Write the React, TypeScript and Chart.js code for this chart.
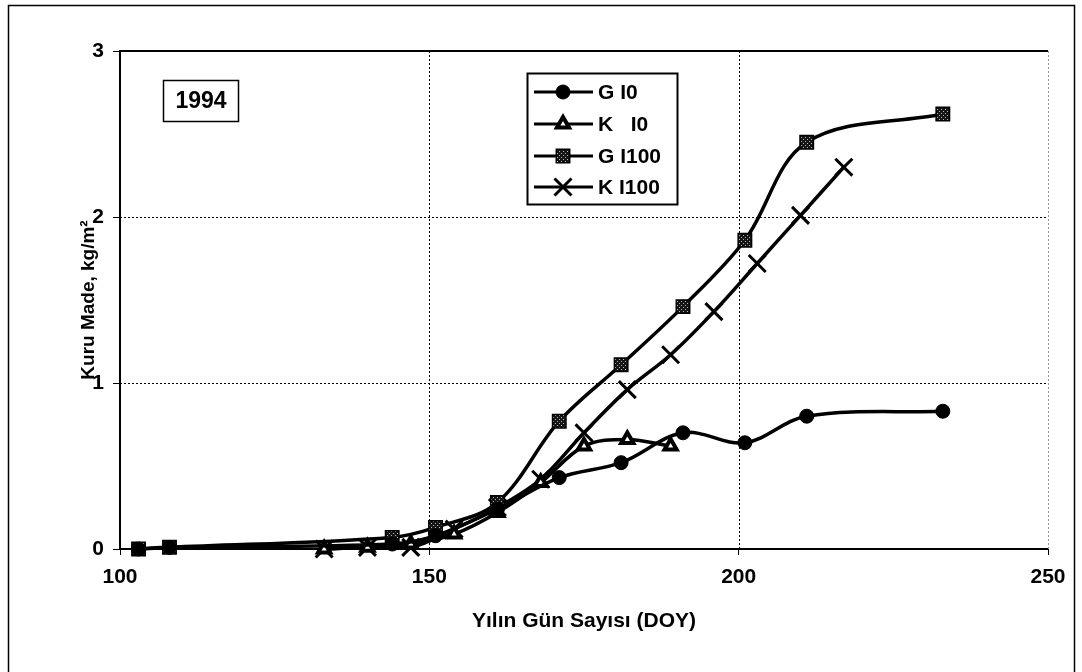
import React, { useEffect, useRef } from 'react';
import { Chart, registerables } from 'chart.js';
import { drawPoint } from 'chart.js/helpers';

Chart.register(...registerables);

// ---- data ----
const xTicks = [100, 150, 200, 250];
const yTicks = [0, 1, 2, 3];
const xTitle = 'Yılın Gün Sayısı (DOY)';
const yTitle = 'Kuru Made, kg/m²';
const yearLabel = '1994';
const seriesLabels = ['G I0', 'K   I0', 'G I100', 'K I100'];

const gI0Days = [103, 108, 144, 151, 161, 171, 181, 191, 201, 211, 233];
const gI0Values = [0, 0.01, 0.03, 0.08, 0.24, 0.43, 0.52, 0.7, 0.64, 0.8, 0.83];

const kI0Days = [133, 140, 147, 154, 161, 168, 175, 182, 189];
const kI0Values = [0, 0.01, 0.03, 0.09, 0.22, 0.4, 0.62, 0.66, 0.62];

const gI100Days = [103, 108, 144, 151, 161, 171, 181, 191, 201, 211, 233];
const gI100Values = [0, 0.01, 0.07, 0.13, 0.28, 0.77, 1.11, 1.46, 1.86, 2.45, 2.62];

const kI100Days = [133, 140, 147, 154, 161, 168, 175, 182, 189, 196, 203, 210, 217];
const kI100Values = [0, 0.01, 0.01, 0.12, 0.25, 0.42, 0.7, 0.96, 1.17, 1.43, 1.72, 2.01, 2.3];

const FONT = "'Liberation Sans', Arial, sans-serif";

function toPoints(days: number[], vals: number[]) {
  return days.map((d, i) => ({ x: d, y: vals[i] }));
}

function makePattern(): CanvasPattern | string {
  const c = document.createElement('canvas');
  c.width = 4;
  c.height = 4;
  const g = c.getContext('2d');
  if (!g) return '#222';
  g.fillStyle = '#151515';
  g.fillRect(0, 0, 4, 4);
  g.fillStyle = '#b8b8b8';
  g.fillRect(1, 1, 1, 1);
  g.fillRect(3, 3, 1, 1);
  const p = g.createPattern(c, 'repeat');
  return p || '#222';
}

export default function App() {
  const ref = useRef<HTMLCanvasElement | null>(null);

  useEffect(() => {
    const canvas = ref.current;
    if (!canvas) return;
    const pattern = makePattern();

    const gridPlugin = {
      id: 'customGrid',
      beforeDatasetsDraw(chart: any) {
        const { ctx, chartArea: a, scales } = chart;
        const x = scales.x;
        const y = scales.y;
        ctx.save();
        ctx.lineWidth = 1;
        ctx.setLineDash([2, 2]);
        xTicks.slice(1).forEach((v, i, arr) => {
          const px = Math.round(x.getPixelForValue(v)) + 0.5;
          ctx.strokeStyle = i === arr.length - 1 ? '#9a9a9a' : '#000';
          ctx.beginPath();
          ctx.moveTo(px, a.top);
          ctx.lineTo(px, a.bottom);
          ctx.stroke();
        });
        ctx.strokeStyle = '#000';
        yTicks.slice(1, -1).forEach((v) => {
          const py = Math.round(y.getPixelForValue(v)) + 0.5;
          ctx.beginPath();
          ctx.moveTo(a.left, py);
          ctx.lineTo(a.right, py);
          ctx.stroke();
        });
        ctx.setLineDash([]);
        ctx.lineWidth = 2;
        const top = Math.round(y.getPixelForValue(yTicks[yTicks.length - 1]));
        ctx.beginPath();
        ctx.moveTo(a.left, top);
        ctx.lineTo(a.right, top);
        ctx.stroke();
        ctx.restore();
      },
    };

    const decoPlugin = {
      id: 'deco',
      afterDraw(chart: any) {
        const { ctx } = chart;
        ctx.save();
        // outer frame
        ctx.strokeStyle = '#000';
        ctx.lineWidth = 1.5;
        ctx.strokeRect(8.5, 5.5, 1066, 720);

        // year box
        ctx.fillStyle = '#fff';
        ctx.fillRect(163.5, 80.5, 75, 41);
        ctx.lineWidth = 1.5;
        ctx.strokeRect(163.5, 80.5, 75, 41);
        ctx.fillStyle = '#000';
        ctx.font = `bold 23px ${FONT}`;
        ctx.textAlign = 'center';
        ctx.textBaseline = 'middle';
        ctx.fillText(yearLabel, 201, 102);

        // legend box
        ctx.fillStyle = '#fff';
        ctx.fillRect(527.5, 73.5, 150, 131);
        ctx.lineWidth = 2;
        ctx.strokeRect(527.5, 73.5, 150, 131);
        const rows = [92, 124, 156, 187];
        chart.data.datasets.forEach((ds: any, i: number) => {
          const yy = rows[i];
          ctx.strokeStyle = '#000';
          ctx.lineWidth = 3;
          ctx.beginPath();
          ctx.moveTo(534, yy);
          ctx.lineTo(593, yy);
          ctx.stroke();
          ctx.fillStyle = ds.pointBackgroundColor;
          ctx.strokeStyle = ds.pointBorderColor;
          ctx.lineWidth = ds.pointBorderWidth;
          drawPoint(ctx, {
            pointStyle: ds.pointStyle,
            rotation: 0,
            radius: ds.pointRadius,
            borderWidth: ds.pointBorderWidth,
          } as any, 563, yy);
          ctx.fillStyle = '#000';
          ctx.font = `bold 21px ${FONT}`;
          ctx.textAlign = 'left';
          ctx.textBaseline = 'middle';
          ctx.fillText(ds.label, 598, yy + 1);
        });
        ctx.restore();
      },
    };

    const common = {
      borderColor: '#000',
      borderWidth: 3.5,
      tension: 0.35,
      fill: false,
      clip: false as any,
      pointBorderColor: '#000',
    };

    const chart = new Chart(canvas, {
      type: 'line',
      data: {
        datasets: [
          {
            ...common,
            label: seriesLabels[0],
            data: toPoints(gI0Days, gI0Values),
            pointStyle: 'circle',
            pointRadius: 7,
            pointBackgroundColor: '#000',
            pointBorderWidth: 1,
          },
          {
            ...common,
            label: seriesLabels[1],
            data: toPoints(kI0Days, kI0Values),
            pointStyle: 'triangle',
            pointRadius: 7,
            pointBackgroundColor: '#fff',
            pointBorderWidth: 4,
          },
          {
            ...common,
            label: seriesLabels[2],
            data: toPoints(gI100Days, gI100Values),
            pointStyle: 'rect',
            pointRadius: 9.5,
            pointBackgroundColor: pattern,
            pointBorderWidth: 1.5,
          },
          {
            ...common,
            label: seriesLabels[3],
            data: toPoints(kI100Days, kI100Values),
            pointStyle: 'crossRot',
            pointRadius: 12,
            pointBackgroundColor: '#000',
            pointBorderWidth: 3,
          },
        ] as any,
      },
      options: {
        animation: false,
        responsive: false,
        devicePixelRatio: 1,
        layout: { padding: { left: 0, right: 34, top: 51, bottom: 0 } },
        plugins: { legend: { display: false }, tooltip: { enabled: false } },
        scales: {
          x: {
            type: 'linear',
            min: xTicks[0],
            max: xTicks[xTicks.length - 1],
            afterBuildTicks: (s: any) => {
              s.ticks = xTicks.map((v) => ({ value: v }));
            },
            afterFit: (s: any) => {
              s.height = 123;
            },
            grid: { drawOnChartArea: false, drawTicks: true, tickLength: 6, color: '#000', tickColor: '#000' },
            border: { display: true, color: '#000', width: 2 },
            ticks: {
              color: '#000',
              font: { family: FONT, size: 21, weight: 'bold' },
              padding: 10,
              maxRotation: 0,
            },
            title: {
              display: true,
              text: xTitle,
              color: '#000',
              font: { family: FONT, size: 21, weight: 'bold' },
              padding: { top: 0, bottom: 38 },
            },
          },
          y: {
            type: 'linear',
            min: yTicks[0],
            max: yTicks[yTicks.length - 1],
            afterBuildTicks: (s: any) => {
              s.ticks = yTicks.map((v) => ({ value: v }));
            },
            afterFit: (s: any) => {
              s.width = 120;
            },
            grid: { drawOnChartArea: false, drawTicks: true, tickLength: 7, color: '#000', tickColor: '#000' },
            border: { display: true, color: '#000', width: 2 },
            ticks: {
              color: '#000',
              font: { family: FONT, size: 21, weight: 'bold' },
              padding: 9,
            },
            title: {
              display: true,
              text: yTitle,
              color: '#000',
              font: { family: FONT, size: 19, weight: 'bold' },
              padding: { top: 77, bottom: 0 },
            },
          },
        },
      } as any,
      plugins: [gridPlugin, decoPlugin],
    });

    return () => chart.destroy();
  }, []);

  return (
    <div style={{ position: 'fixed', left: 0, top: 0, width: 1082, height: 672, background: '#fff' }}>
      <canvas ref={ref} width={1082} height={672} style={{ display: 'block' }} />
    </div>
  );
}
